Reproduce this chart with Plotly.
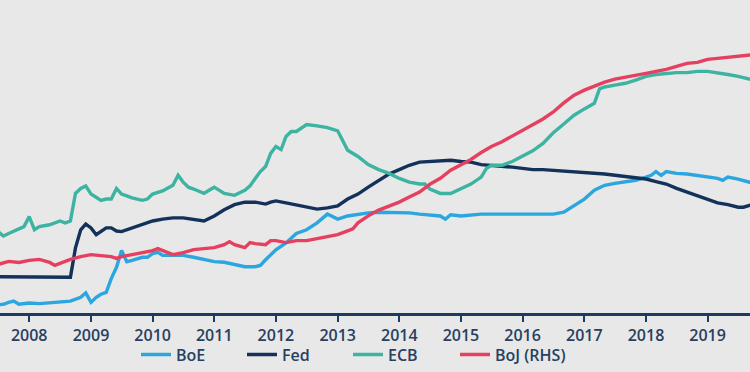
import plotly.graph_objects as go

# Central bank balance sheets (% of GDP, estimated) - BoE, Fed, ECB on LHS, BoJ on RHS
boe_dates = ["2007-07", "2007-08", "2007-09", "2007-10", "2007-11", "2008-01", "2008-03", "2008-05", "2008-07", "2008-09",
             "2008-11", "2008-12", "2009-01", "2009-02", "2009-03", "2009-04", "2009-05", "2009-06", "2009-07", "2009-08",
             "2009-09", "2009-11", "2009-12", "2010-01", "2010-02", "2010-03", "2010-05", "2010-07", "2010-09", "2010-11",
             "2011-01", "2011-03", "2011-05", "2011-07", "2011-09", "2011-10", "2011-11", "2012-01", "2012-03", "2012-05",
             "2012-07", "2012-09", "2012-11", "2013-01", "2013-03", "2013-05", "2013-07", "2013-09", "2013-11", "2014-01",
             "2014-03", "2014-05", "2014-07", "2014-09", "2014-10", "2014-11", "2015-01", "2015-03", "2015-05", "2015-07",
             "2015-09", "2015-11", "2016-01", "2016-03", "2016-05", "2016-07", "2016-09", "2016-11", "2017-01", "2017-03",
             "2017-05", "2017-07", "2017-09", "2017-11", "2018-01", "2018-02", "2018-03", "2018-04", "2018-05", "2018-07",
             "2018-09", "2018-11", "2019-01", "2019-03", "2019-04", "2019-05", "2019-07", "2019-09", "2019-10"]
boe_values = [1.3, 1.4, 1.7, 1.9, 1.4, 1.6, 1.5, 1.6, 1.7, 1.9,
              2.5, 3.2, 1.7, 2.5, 3.0, 3.3, 5.5, 7.3, 10.0, 8.2,
              8.4, 8.9, 8.9, 9.5, 9.7, 9.2, 9.2, 9.2, 8.9, 8.5,
              8.2, 8.1, 7.8, 7.4, 7.4, 7.6, 8.5, 10.1, 11.2, 12.7,
              13.3, 14.4, 15.8, 15.0, 15.5, 15.8, 16.0, 16.1, 16.1, 16.1,
              16.0, 15.8, 15.7, 15.5, 15.0, 15.7, 15.5, 15.7, 15.8, 15.8,
              15.8, 15.7, 15.7, 15.7, 15.7, 15.8, 16.1, 17.1, 18.2, 19.6,
              20.4, 20.7, 20.9, 21.2, 21.7, 22.0, 22.6, 22.0, 22.6, 22.3,
              22.2, 22.0, 21.8, 21.5, 21.2, 21.7, 21.4, 20.9, 20.7]

fed_dates = ["2007-07", "2007-09", "2007-11", "2008-01", "2008-03", "2008-05", "2008-07", "2008-09", "2008-10", "2008-11",
             "2008-12", "2009-01", "2009-02", "2009-03", "2009-04", "2009-05", "2009-06", "2009-07", "2009-09", "2009-11",
             "2010-01", "2010-03", "2010-05", "2010-07", "2010-09", "2010-11", "2011-01", "2011-03", "2011-05", "2011-07",
             "2011-09", "2011-11", "2011-12", "2012-01", "2012-03", "2012-05", "2012-07", "2012-09", "2012-11", "2013-01",
             "2013-03", "2013-05", "2013-07", "2013-09", "2013-11", "2014-01", "2014-03", "2014-05", "2014-07", "2014-09",
             "2014-11", "2015-01", "2015-03", "2015-05", "2015-07", "2015-09", "2015-11", "2016-01", "2016-03", "2016-05",
             "2016-07", "2016-09", "2016-11", "2017-01", "2017-03", "2017-05", "2017-07", "2017-09", "2017-11", "2018-01",
             "2018-03", "2018-05", "2018-07", "2018-09", "2018-11", "2019-01", "2019-03", "2019-05", "2019-07", "2019-08",
             "2019-09", "2019-10"]
fed_values = [5.8, 5.8, 5.8, 5.8, 5.8, 5.7, 5.7, 5.7, 10.4, 13.3,
              14.2, 13.6, 12.5, 13.1, 13.6, 13.6, 13.1, 13.0, 13.6, 14.2,
              14.7, 15.0, 15.2, 15.2, 14.9, 14.7, 15.5, 16.5, 17.3, 17.7,
              17.7, 17.4, 17.7, 17.9, 17.6, 17.3, 16.9, 16.6, 16.8, 17.1,
              18.2, 19.0, 20.1, 21.2, 22.2, 22.9, 23.6, 24.1, 24.2, 24.4,
              24.4, 24.2, 24.1, 23.7, 23.6, 23.4, 23.3, 23.1, 22.9, 22.9,
              22.8, 22.6, 22.6, 22.5, 22.3, 22.2, 22.0, 21.8, 21.5, 21.4,
              21.0, 20.6, 19.9, 19.3, 18.8, 18.2, 17.6, 17.3, 16.9, 16.9,
              17.2, 17.4]

ecb_dates = ["2007-07", "2007-08", "2007-09", "2007-10", "2007-11", "2007-12", "2008-01", "2008-02", "2008-03", "2008-05",
             "2008-07", "2008-08", "2008-09", "2008-10", "2008-11", "2008-12", "2009-01", "2009-02", "2009-03", "2009-04",
             "2009-05", "2009-06", "2009-07", "2009-08", "2009-09", "2009-11", "2009-12", "2010-01", "2010-03", "2010-05",
             "2010-06", "2010-07", "2010-08", "2010-09", "2010-11", "2010-12", "2011-01", "2011-03", "2011-05", "2011-07",
             "2011-08", "2011-09", "2011-10", "2011-11", "2011-12", "2012-01", "2012-02", "2012-03", "2012-04", "2012-05",
             "2012-06", "2012-07", "2012-09", "2012-11", "2013-01", "2013-03", "2013-05", "2013-07", "2013-09", "2013-11",
             "2014-01", "2014-03", "2014-05", "2014-06", "2014-07", "2014-09", "2014-11", "2015-01", "2015-03", "2015-05",
             "2015-06", "2015-07", "2015-09", "2015-11", "2016-01", "2016-03", "2016-05", "2016-07", "2016-09", "2016-11",
             "2017-01", "2017-03", "2017-04", "2017-05", "2017-07", "2017-09", "2017-11", "2018-01", "2018-03", "2018-05",
             "2018-07", "2018-09", "2018-11", "2019-01", "2019-03", "2019-05", "2019-07", "2019-09", "2019-10"]
ecb_values = [13.0, 12.3, 12.7, 13.1, 13.4, 13.8, 15.4, 13.3, 13.8, 14.1,
              14.7, 14.4, 14.7, 19.1, 19.9, 20.3, 19.0, 18.4, 18.0, 18.2,
              18.2, 19.9, 19.0, 18.7, 18.4, 18.0, 18.2, 19.0, 19.5, 20.4,
              22.0, 20.9, 20.1, 19.8, 19.1, 19.6, 20.1, 19.1, 18.8, 19.6,
              20.3, 21.5, 22.6, 23.4, 25.5, 26.6, 26.1, 28.2, 29.0, 29.0,
              29.6, 30.1, 29.9, 29.6, 29.1, 26.0, 25.0, 23.7, 22.9, 22.3,
              21.5, 20.9, 20.6, 20.6, 19.8, 19.1, 19.1, 19.9, 20.6, 21.7,
              23.1, 23.6, 23.6, 24.2, 25.0, 25.9, 27.1, 28.8, 30.2, 31.6,
              32.6, 33.5, 35.8, 36.1, 36.4, 36.7, 37.2, 37.8, 38.1, 38.3,
              38.4, 38.4, 38.6, 38.6, 38.4, 38.1, 37.8, 37.3, 37.2]

boj_dates = ["2007-07", "2007-09", "2007-11", "2008-01", "2008-03", "2008-05", "2008-06", "2008-07", "2008-09", "2008-11",
             "2009-01", "2009-03", "2009-05", "2009-06", "2009-07", "2009-09", "2009-11", "2010-01", "2010-02", "2010-03",
             "2010-04", "2010-05", "2010-07", "2010-09", "2010-11", "2011-01", "2011-03", "2011-04", "2011-05", "2011-07",
             "2011-08", "2011-09", "2011-11", "2011-12", "2012-01", "2012-03", "2012-05", "2012-07", "2012-09", "2012-11",
             "2013-01", "2013-03", "2013-04", "2013-05", "2013-07", "2013-09", "2013-11", "2014-01", "2014-03", "2014-05",
             "2014-07", "2014-09", "2014-11", "2015-01", "2015-03", "2015-05", "2015-07", "2015-09", "2015-11", "2016-01",
             "2016-03", "2016-05", "2016-07", "2016-09", "2016-11", "2017-01", "2017-03", "2017-05", "2017-07", "2017-09",
             "2017-11", "2018-01", "2018-03", "2018-05", "2018-07", "2018-09", "2018-11", "2019-01", "2019-03", "2019-05",
             "2019-07", "2019-09", "2019-10"]
boj_values = [19.4, 20.6, 20.2, 21.0, 21.4, 20.2, 19.0, 19.8, 21.4, 22.5,
              23.3, 22.9, 22.5, 21.8, 22.5, 23.3, 24.1, 24.9, 25.7, 24.9,
              24.1, 23.3, 24.1, 25.3, 25.7, 26.1, 27.3, 28.5, 27.3, 26.1,
              28.1, 27.7, 27.3, 28.9, 28.9, 28.1, 28.9, 28.9, 29.7, 30.5,
              31.3, 32.8, 33.6, 36.0, 38.8, 41.1, 42.7, 44.3, 46.3, 48.3,
              51.4, 53.8, 57.0, 59.3, 61.3, 64.1, 66.5, 68.4, 70.8, 73.2,
              75.2, 77.5, 80.3, 83.9, 87.0, 89.0, 90.6, 92.2, 93.4, 94.1,
              94.9, 95.7, 96.5, 97.3, 98.5, 99.7, 100.1, 101.3, 101.7, 102.1,
              102.5, 103.2, 103.2]

year_ticks = [f"{y}-01-01" for y in range(2008, 2020)]
year_labels = [str(y) for y in range(2008, 2020)]

C_BOE = "#2ba6df"
C_FED = "#14315a"
C_ECB = "#3db3a2"
C_BOJ = "#e5405f"
NAVY = "#1d3a5f"
TEXT = "#27405f"

fig = go.Figure()
fig.add_trace(go.Scatter(x=boe_dates, y=boe_values, name="BoE", mode="lines",
                         line=dict(color=C_BOE, width=3.4), legend="legend"))
fig.add_trace(go.Scatter(x=fed_dates, y=fed_values, name="Fed", mode="lines",
                         line=dict(color=C_FED, width=3.4), legend="legend"))
fig.add_trace(go.Scatter(x=ecb_dates, y=ecb_values, name="ECB", mode="lines",
                         line=dict(color=C_ECB, width=3.4), legend="legend"))
fig.add_trace(go.Scatter(x=boj_dates, y=boj_values, name="BoJ (RHS)", mode="lines",
                         line=dict(color=C_BOJ, width=3.4), yaxis="y2", legend="legend2"))

legend_font = dict(size=16, color=TEXT, weight=600)

fig.update_layout(
    width=750, height=372,
    margin=dict(l=0, r=0, t=0, b=56),
    paper_bgcolor="#e8e8e8", plot_bgcolor="#e8e8e8",
    font=dict(family="Open Sans", color=TEXT),
    showlegend=True,
    legend=dict(orientation="h", x=136 / 750, xanchor="left", y=-0.133, yanchor="middle",
                font=legend_font, entrywidth=61, entrywidthmode="pixels",
                bgcolor="rgba(0,0,0,0)", traceorder="normal"),
    legend2=dict(orientation="h", x=455 / 750, xanchor="left", y=-0.133, yanchor="middle",
                 font=legend_font, bgcolor="rgba(0,0,0,0)"),
    xaxis=dict(type="date", range=["2007-07-12", "2019-09-09"],
               tickmode="array", tickvals=year_ticks, ticktext=year_labels,
               showgrid=False, zeroline=False,
               showline=True, linecolor=NAVY, linewidth=2.5,
               ticks="outside", ticklen=6, tickwidth=2, tickcolor=NAVY,
               tickfont=dict(size=16, color=TEXT, weight=600)),
    yaxis=dict(range=[0, 50], visible=False, showgrid=False, zeroline=False),
    yaxis2=dict(range=[0, 125], visible=False, overlaying="y", side="right",
                showgrid=False, zeroline=False),
)

fig.write_html("out.html", config={"displayModeBar": False},
               post_script="document.body.style.margin='0';document.body.style.background='#e8e8e8';")
